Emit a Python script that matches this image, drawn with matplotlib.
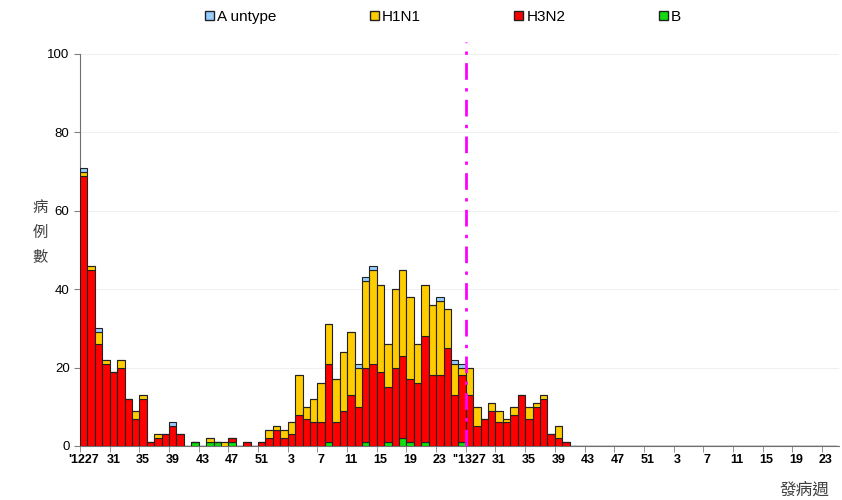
import numpy as np
import matplotlib
matplotlib.use("Agg")
import matplotlib.pyplot as plt
from matplotlib.patches import Patch

plt.rcParams["font.family"] = ["Liberation Sans", "DejaVu Sans"]

# week numbers, 2012 w27 .. 2014 w24
weeks = list(range(27, 53)) + list(range(1, 27)) + list(range(27, 53)) + list(range(1, 25))
tick_labels = ["'1227", "31", "35", "39", "43", "47", "51", "3", "7", "11", "15", "19", "23",
               "''1327", "31", "35", "39", "43", "47", "51", "3", "7", "11", "15", "19", "23"]

b = [0, 0, 0, 0, 0, 0, 0, 0, 0, 0, 0, 0, 0, 0, 0, 1, 0, 1, 1, 0, 1, 0, 0, 0, 0, 0,
     0, 0, 0, 0, 0, 0, 0, 1, 0, 0, 0, 0, 1, 0, 0, 1, 0, 2, 1, 0, 1, 0, 0, 0, 0, 1,
     0, 0, 0, 0, 0, 0, 0, 0, 0, 0, 0, 0, 0, 0]
h3n2 = [69, 45, 26, 21, 19, 20, 12, 7, 12, 1, 2, 3, 5, 3, 0, 0, 0, 0, 0, 0, 1, 0, 1, 0, 1, 2,
        4, 2, 3, 8, 7, 6, 6, 20, 6, 9, 13, 10, 19, 21, 19, 14, 20, 21, 16, 16, 27, 18, 18, 25, 13, 17,
        13, 5, 7, 9, 6, 6, 8, 13, 7, 10, 12, 3, 2, 1]
h1n1 = [1, 1, 3, 1, 0, 2, 0, 2, 1, 0, 1, 0, 0, 0, 0, 0, 0, 1, 0, 1, 0, 0, 0, 0, 0, 2,
        1, 2, 3, 10, 3, 6, 10, 10, 11, 15, 16, 10, 22, 24, 22, 11, 20, 22, 21, 10, 13, 18, 19, 10, 8, 2,
        7, 5, 0, 2, 3, 1, 2, 0, 3, 1, 1, 0, 3, 0]
a_untype = [1, 0, 1, 0, 0, 0, 0, 0, 0, 0, 0, 0, 1, 0, 0, 0, 0, 0, 0, 0, 0, 0, 0, 0, 0, 0,
            0, 0, 0, 0, 0, 0, 0, 0, 0, 0, 0, 1, 1, 1, 0, 0, 0, 0, 0, 0, 0, 0, 1, 0, 1, 1,
            0, 0, 0, 0, 0, 0, 0, 0, 0, 0, 0, 0, 0, 0]

n = len(weeks)
pad = [0] * (n - len(b))
b = np.array(b + pad)
h3n2 = np.array(h3n2 + pad)
h1n1 = np.array(h1n1 + pad)
a_untype = np.array(a_untype + pad)
x = np.arange(n)

c_a, c_h1, c_h3, c_b = "#99CCFF", "#FFCC00", "#FF0000", "#11DD11"

fig = plt.figure(figsize=(8.42, 5.0), dpi=100)
ax = fig.add_axes([80 / 842, 54 / 500, 759 / 842, 392 / 500])

kw = dict(width=1.0, edgecolor="#222222", linewidth=0.8, zorder=3)
ax.bar(x, b, color=c_b, **kw)
ax.bar(x, h3n2, bottom=b, color=c_h3, **kw)
ax.bar(x, h1n1, bottom=b + h3n2, color=c_h1, **kw)
ax.bar(x, a_untype, bottom=b + h3n2 + h1n1, color=c_a, **kw)

# season boundary
ax.plot([51.5, 51.5], [0, 103], color="#FF00FF", lw=2, ls=(0, (6, 3, 1.2, 3)),
        clip_on=False, zorder=4)

ax.set_xlim(-0.5, n - 0.5 + 0.3)
ax.set_ylim(0, 100)
ax.set_yticks(range(0, 101, 20))
ax.yaxis.grid(True, color="#f0f0f0", lw=0.8, zorder=0)
ax.tick_params(axis="y", labelsize=9.5, length=4, color="#808080", labelcolor="#000000")

lab_pos = np.arange(0, n, 4)
ax.set_xticks(lab_pos)
ax.set_xticklabels(tick_labels, fontweight="bold", fontsize=9)
ax.set_xticks(lab_pos - 0.5, minor=True)
ax.tick_params(axis="x", which="major", length=0, pad=6)
ax.tick_params(axis="x", which="minor", length=4, color="#808080")

for s in ["top", "right"]:
    ax.spines[s].set_visible(False)
ax.spines["left"].set_color("#707070")
ax.spines["bottom"].set_color("#707070")

handles = [Patch(facecolor=c_a, edgecolor="#222222", label="A untype"),
           Patch(facecolor=c_h1, edgecolor="#222222", label="H1N1"),
           Patch(facecolor=c_h3, edgecolor="#222222", label="H3N2"),
           Patch(facecolor=c_b, edgecolor="#222222", label="B")]
fig.legend(handles=handles, loc="center left", bbox_to_anchor=(205 / 842, 1 - 17 / 500),
           ncol=4, frameon=False, fontsize=11, handlelength=0.6, handleheight=0.6,
           handletextpad=0.2, columnspacing=6.1, borderpad=0, borderaxespad=0)

fig.text(40 / 842, 1 - 232 / 500, "病\n例\n數", family=["Noto Sans CJK TC", "DejaVu Sans"],
         fontsize=11, color="#404040", ha="center", va="center", linespacing=1.6)
fig.text(805 / 842, 1 - 490 / 500, "發病週", family=["Noto Sans CJK TC", "DejaVu Sans"],
         fontsize=12, color="#404040", ha="center", va="center")

fig.savefig("out.png", dpi=100)
